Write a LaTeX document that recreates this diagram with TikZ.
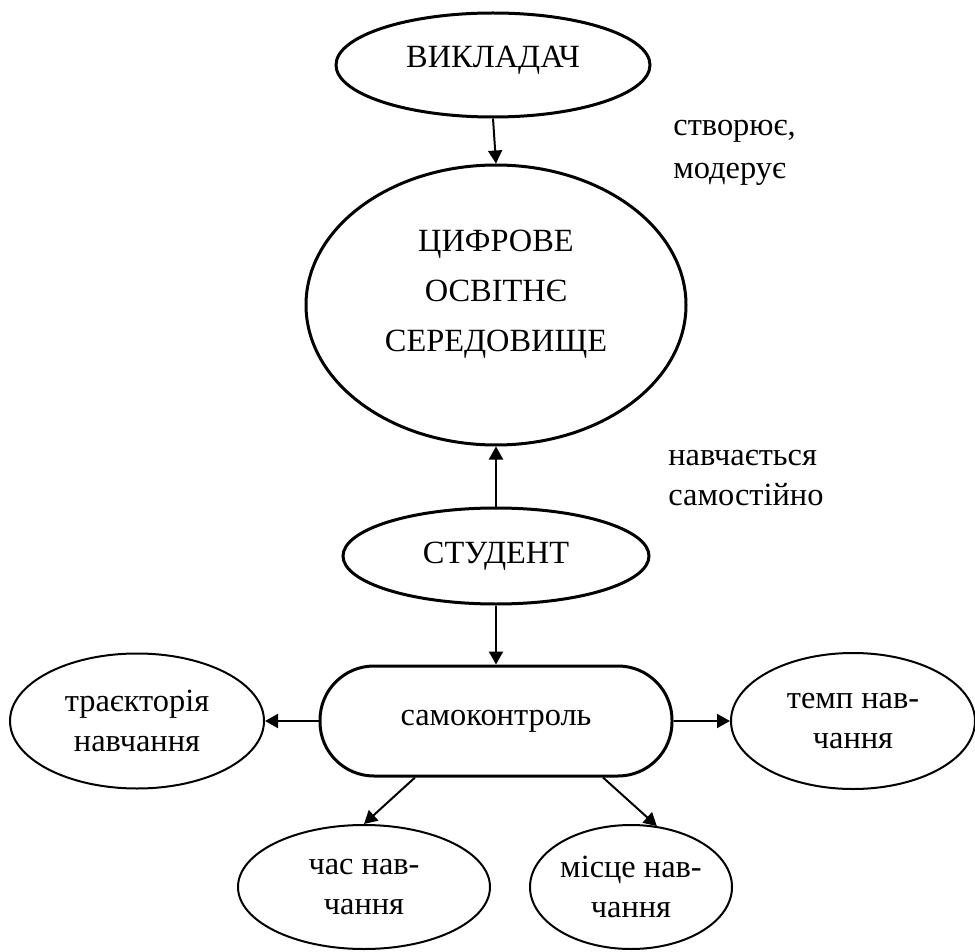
\documentclass[tikz,border=0pt]{standalone}
\usepackage{fontspec}
\setmainfont{Liberation Serif}
\usetikzlibrary{arrows.meta,shapes.geometric,calc}
\tikzset{
  heavy/.style={draw, line width=1.5pt, inner sep=0pt, align=center},
  light/.style={draw, ellipse, line width=1pt, inner sep=0pt, align=center},
  link/.style={line width=1pt, -{Triangle[length=6.5pt, width=7pt]}},
  note/.style={anchor=west, align=left, inner sep=0pt},
}

\begin{document}
\begin{tikzpicture}[x=0.5pt, y=-0.5pt, font=\fontsize{16.2}{20}\selectfont]
  \useasboundingbox (0,0) rectangle (975,952);

  % upper chain
  \node[heavy, ellipse, minimum width=157pt, minimum height=52pt, text depth=8pt] (vykl) at (493,65) {ВИКЛАДАЧ};
  \node[heavy, ellipse, minimum width=190pt, minimum height=140pt, text depth=14pt,
        font=\fontsize{16.2}{25}\selectfont] (tsyfr) at (496,305) {ЦИФРОВЕ\\ОСВІТНЄ\\СЕРЕДОВИЩЕ};
  \node[heavy, ellipse, minimum width=153pt, minimum height=48pt] (stud) at (496,556) {СТУДЕНТ};
  \node[heavy, rectangle, rounded corners=27pt, minimum width=176pt, minimum height=55pt] (samo) at (496,721) {самоконтроль};

  \node[note, font=\fontsize{16.2}{21.5}\selectfont] (tvor) at (673,153) {створює,\\модерує};
  \node[note] (navch) at (668,478) {навчається\\самостійно};

  % what the student controls
  \node[light, minimum width=127pt, minimum height=67.5pt] (traj) at (137,721) {траєкторія\\навчання};
  \node[light, minimum width=122pt, minimum height=68pt] (temp) at (853,721) {темп нав-\\чання};
  \node[light, minimum width=126pt, minimum height=62pt] (chas) at (364,887) {час нав-\\чання};
  \node[light, minimum width=101pt, minimum height=62pt] (mistse) at (631,887) {місце нав-\\чання};

  \draw[link] (vykl.south) -- (tsyfr.north);
  \draw[link] (stud.north) -- (tsyfr.south);
  \draw[link] (stud.south) -- (samo.north);
  \draw[link] (samo.west) -- (traj.east);
  \draw[link] (samo.east) -- (temp.west);
  \draw[link] ($(samo.south)+(-81,0)$) -- (chas.north);
  \draw[link] ($(samo.south)+(107,0)$) -- (mistse.67);
\end{tikzpicture}
\end{document}
